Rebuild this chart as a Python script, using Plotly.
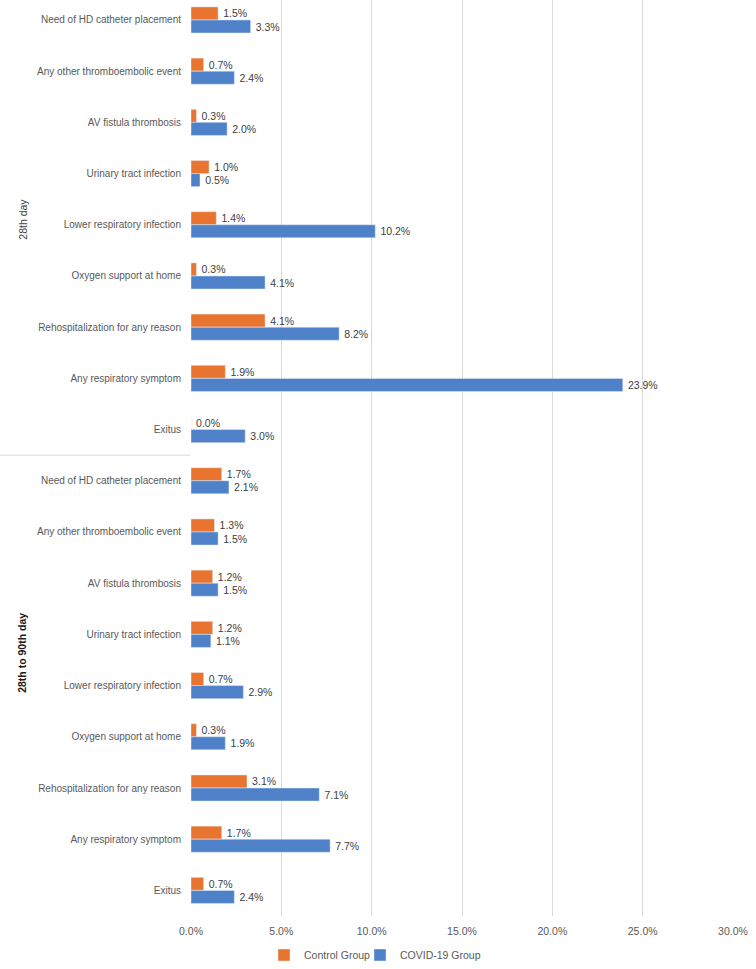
import plotly.graph_objects as go

categories = [
    "Need of HD catheter placement", "Any other thromboembolic event", "AV fistula thrombosis",
    "Urinary tract infection", "Lower respiratory infection", "Oxygen support at home",
    "Rehospitalization for any reason", "Any respiratory symptom", "Exitus",
]
groups = ["28th day", "28th to 90th day"]

control_28 = [1.5, 0.7, 0.3, 1.0, 1.4, 0.3, 4.1, 1.9, 0.0]
covid_28 = [3.3, 2.4, 2.0, 0.5, 10.2, 4.1, 8.2, 23.9, 3.0]
control_90 = [1.7, 1.3, 1.2, 1.2, 0.7, 0.3, 3.1, 1.7, 0.7]
covid_90 = [2.1, 1.5, 1.5, 1.1, 2.9, 1.9, 7.1, 7.7, 2.4]

x_ticks = [0, 5, 10, 15, 20, 25, 30]

labels = categories + categories
pos = list(range(len(labels)))
control = control_28 + control_90
covid = covid_28 + covid_90

ORANGE = "#E8742F"
BLUE = "#4F81C9"
TXT = "#404040"
FONT = "Liberation Sans"

fig = go.Figure()
fig.add_trace(go.Bar(
    y=pos, x=control, orientation="h", name="Control Group", legend="legend",
    marker=dict(color=ORANGE), text=[f"\u2009{v:.1f}%" for v in control],
    textposition="outside", textfont=dict(size=10.5, color=TXT, family=FONT),
    cliponaxis=False,
))
fig.add_trace(go.Bar(
    y=pos, x=covid, orientation="h", name="COVID-19 Group", legend="legend2",
    marker=dict(color=BLUE), text=[f"\u2009{v:.1f}%" for v in covid],
    textposition="outside", textfont=dict(size=10.5, color=TXT, family=FONT),
    cliponaxis=False,
))

W, H = 756, 969
left, right, top, bottom = 191, 23, 0, 53
pw = W - left - right

def px_to_paper_x(px):
    return (px - left) / pw

legend_common = dict(
    orientation="h", xref="container", yref="container",
    xanchor="left", y=1 - 955 / H, yanchor="middle",
    font=dict(size=10.5, color="#595959"), itemwidth=30,
    bgcolor="rgba(0,0,0,0)",
)

fig.update_layout(
    width=W, height=H,
    margin=dict(l=left, r=right, t=top, b=bottom, pad=0),
    barmode="group", bargap=0.49, bargroupgap=0.0,
    plot_bgcolor="white", paper_bgcolor="white",
    font=dict(family=FONT, size=10, color="#595959"),
    xaxis=dict(
        range=[0, 30], tickvals=x_ticks, ticktext=[f"{v:.1f}%" for v in x_ticks],
        showgrid=True, gridcolor="#D9D9D9", gridwidth=1, zeroline=False,
        showline=False, ticks="outside", ticklen=5, tickcolor="rgba(0,0,0,0)",
        tickfont=dict(size=10.5, color="#595959"),
    ),
    yaxis=dict(
        range=[17.5, -0.39], tickvals=pos, ticktext=labels,
        showgrid=False, zeroline=False, showline=False,
        ticks="outside", ticklen=7, tickcolor="rgba(0,0,0,0)",
        tickfont=dict(size=10, color="#595959"),
    ),
    legend=dict(x=264 / W, **legend_common),
    legend2=dict(x=360 / W, **legend_common),
    showlegend=True,
)

# divider between the two periods
fig.add_shape(type="line", xref="paper", yref="y",
              x0=px_to_paper_x(0), x1=px_to_paper_x(190), y0=8.5, y1=8.5,
              line=dict(color="#D9D9D9", width=1))

fig.add_annotation(text=groups[0], xref="paper", yref="y",
                   x=px_to_paper_x(15), y=3.9, textangle=-90, showarrow=False,
                   font=dict(size=10.5, color=TXT, family=FONT))
fig.add_annotation(text="<b>" + groups[1] + "</b>", xref="paper", yref="y",
                   x=px_to_paper_x(14), y=12.36, textangle=-90, showarrow=False,
                   font=dict(size=10.5, color="#1a1a1a", family=FONT))

fig.write_html("out.html", config={"displayModeBar": False},
               post_script="document.body.style.margin='0';")
